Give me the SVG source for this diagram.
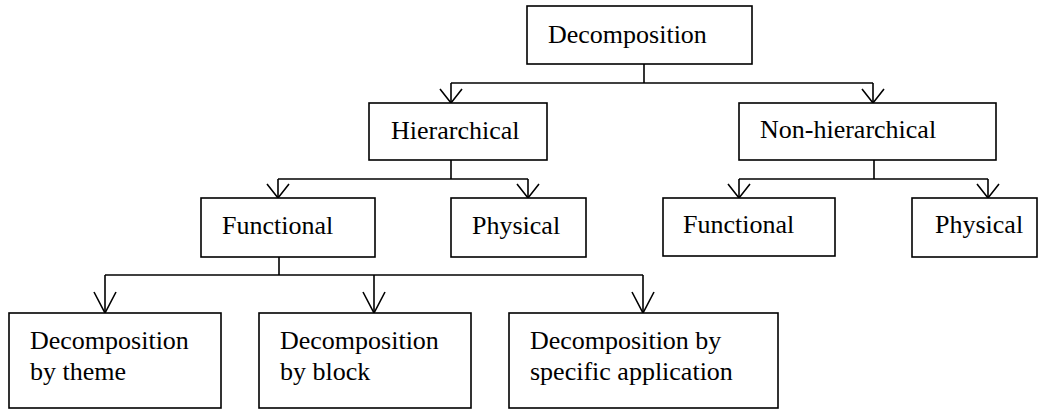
<svg xmlns="http://www.w3.org/2000/svg" width="1039" height="410" viewBox="0 0 1039 410">
<style>
.box{fill:#fff;stroke:#000;stroke-width:1.6}
.lbl{font-family:"Liberation Serif","Times New Roman",serif;font-size:26px;fill:#000}
.ln{fill:none;stroke:#000;stroke-width:1.6}
</style>
<defs>
<marker id="arrS" markerUnits="userSpaceOnUse" viewBox="-16 -13 18 26" markerWidth="18" markerHeight="26" refX="0" refY="0" orient="auto">
<path d="M-14,-11 L0,0 L-14,11" fill="none" stroke="#000" stroke-width="1.6"/>
</marker>
<marker id="arrL" markerUnits="userSpaceOnUse" viewBox="-23 -13 25 26" markerWidth="25" markerHeight="26" refX="0" refY="0" orient="auto">
<path d="M-21,-11 L0,0 L-21,11" fill="none" stroke="#000" stroke-width="1.6"/>
</marker>
</defs>
<rect width="1039" height="410" fill="#fff"/>
<g id="connectors">
<path class="ln" d="M644,64 V83"/>
<path class="ln" d="M451,83 H873"/>
<path class="ln" d="M451,83 V103" marker-end="url(#arrS)"/>
<path class="ln" d="M873,83 V103" marker-end="url(#arrS)"/>
<path class="ln" d="M451,160 V179"/>
<path class="ln" d="M278,179 H528"/>
<path class="ln" d="M278,179 V198" marker-end="url(#arrS)"/>
<path class="ln" d="M528,179 V198" marker-end="url(#arrS)"/>
<path class="ln" d="M874,160 V179"/>
<path class="ln" d="M739,179 H988"/>
<path class="ln" d="M739,179 V198" marker-end="url(#arrS)"/>
<path class="ln" d="M988,179 V198" marker-end="url(#arrS)"/>
<path class="ln" d="M279,257 V275"/>
<path class="ln" d="M105,275 H643"/>
<path class="ln" d="M105,275 V313" marker-end="url(#arrL)"/>
<path class="ln" d="M374,275 V313" marker-end="url(#arrL)"/>
<path class="ln" d="M643,275 V313" marker-end="url(#arrL)"/>
</g>
<g id="decomposition">
<rect class="box" x="527" y="6" width="225" height="58"/>
<text class="lbl" x="548" y="43">Decomposition</text>
</g>
<g id="hierarchical">
<rect class="box" x="369" y="103" width="178" height="57"/>
<text class="lbl" x="391" y="139">Hierarchical</text>
</g>
<g id="non-hierarchical">
<rect class="box" x="739" y="103" width="257" height="57"/>
<text class="lbl" x="760" y="138">Non-hierarchical</text>
</g>
<g id="functional-h">
<rect class="box" x="201" y="198" width="174" height="59"/>
<text class="lbl" x="222" y="234">Functional</text>
</g>
<g id="physical-h">
<rect class="box" x="451" y="198" width="135" height="59"/>
<text class="lbl" x="472" y="234">Physical</text>
</g>
<g id="functional-nh">
<rect class="box" x="663" y="198" width="172" height="58"/>
<text class="lbl" x="683" y="233">Functional</text>
</g>
<g id="physical-nh">
<rect class="box" x="912" y="198" width="125" height="59"/>
<text class="lbl" x="935" y="233">Physical</text>
</g>
<g id="by-theme">
<rect class="box" x="9" y="313" width="212" height="95"/>
<text class="lbl" x="30" y="349">Decomposition</text>
<text class="lbl" x="30" y="380">by theme</text>
</g>
<g id="by-block">
<rect class="box" x="259" y="313" width="212" height="95"/>
<text class="lbl" x="280" y="349">Decomposition</text>
<text class="lbl" x="280" y="380">by block</text>
</g>
<g id="by-application">
<rect class="box" x="509" y="313" width="269" height="95"/>
<text class="lbl" x="530" y="349">Decomposition by</text>
<text class="lbl" x="530" y="380">specific application</text>
</g>
</svg>
